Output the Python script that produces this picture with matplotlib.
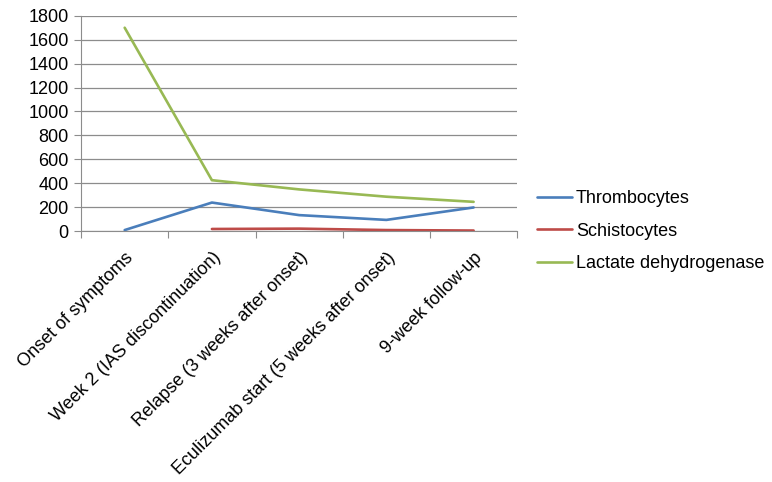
import numpy as np
import matplotlib
matplotlib.use("Agg")
import matplotlib.pyplot as plt

plt.rcParams['font.family'] = ['Liberation Sans', 'DejaVu Sans']

# data
categories = [
    "Onset of symptoms",
    "Week 2 (IAS discontinuation)",
    "Relapse (3 weeks after onset)",
    "Eculizumab start (5 weeks after onset)",
    "9-week follow-up",
]
thrombocytes = [8, 238, 133, 93, 197]
schistocytes = [np.nan, 17, 20, 8, 4]
ldh = [1700, 425, 348, 287, 244]

series_names = ["Thrombocytes", "Schistocytes", "Lactate dehydrogenase"]
series_colors = ["#4A7EBB", "#BE4B48", "#98B954"]

fig = plt.figure(figsize=(7.72, 4.82), dpi=100)
ax = fig.add_axes([0.105, 0.5207, 0.565, 0.4466])

x = np.arange(len(categories))
for vals, name, col in zip([thrombocytes, schistocytes, ldh], series_names, series_colors):
    ax.plot(x, vals, color=col, lw=1.9, label=name, solid_capstyle='round')

ax.set_xlim(-0.5, len(categories) - 0.5)
ax.set_ylim(0, 1800)
ax.set_yticks(np.arange(0, 1801, 200))
ax.yaxis.grid(True, color="#8C8C8C", lw=0.9)
ax.set_axisbelow(True)

# category ticks sit between the points, labels under the points
ax.set_xticks(np.arange(-0.5, len(categories), 1.0))
ax.set_xticklabels([])
ax.set_xticks(x, minor=True)
ax.set_xticklabels(categories, minor=True, rotation=45, ha='right',
                   rotation_mode='anchor', fontsize=13)
ax.tick_params(axis='x', which='minor', length=0, pad=13)
ax.tick_params(axis='x', which='major', length=5, color="#8C8C8C", direction='out')
ax.tick_params(axis='y', length=5, color="#8C8C8C", labelsize=13, pad=4)

for s in ['top', 'right']:
    ax.spines[s].set_visible(False)
ax.spines['left'].set_color("#8C8C8C")
ax.spines['bottom'].set_color("#8C8C8C")

ax.legend(loc='center left', bbox_to_anchor=(1.008, 0.0), frameon=False,
          fontsize=13, handlelength=1.95, handletextpad=0.2, labelspacing=0.85)

fig.savefig("out.png", dpi=100)
